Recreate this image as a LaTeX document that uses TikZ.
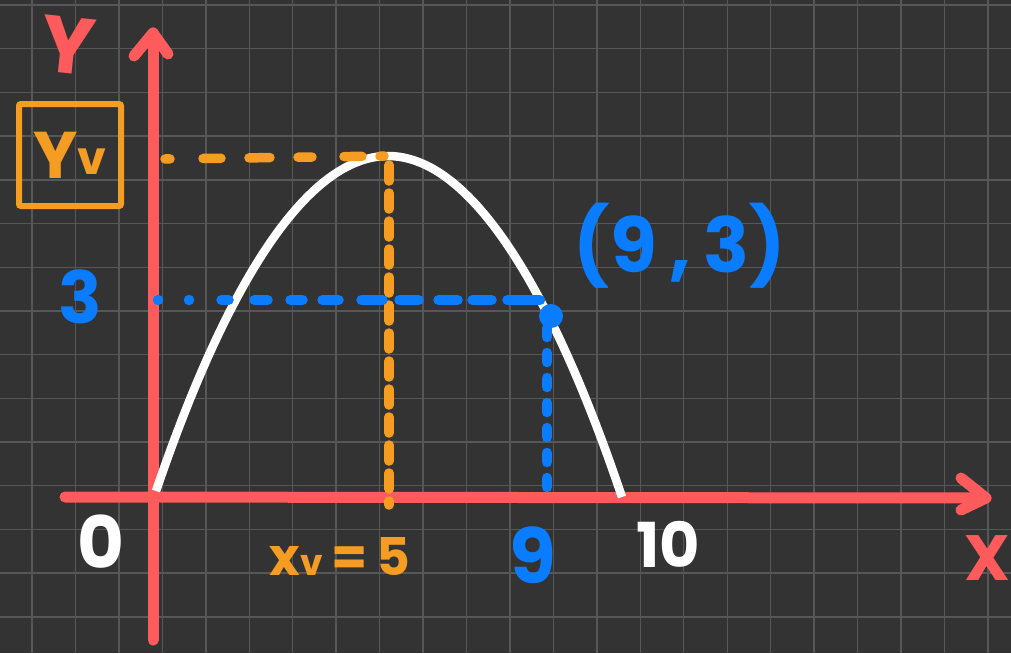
\documentclass[tikz,border=0pt]{standalone}
\usepackage{fontspec}
\setmainfont{Poppins}
\definecolor{bgc}{HTML}{333333}
\definecolor{gridc}{HTML}{575757}
\definecolor{axred}{HTML}{FF5B5D}
\definecolor{dorange}{HTML}{F59C22}
\definecolor{dblue}{HTML}{0A7CFF}
\begin{document}
\begin{tikzpicture}[x=1pt,y=-1pt,
  gridline/.style={draw=gridc, line width=1.4pt},
  axis/.style={draw=axred, line width=11pt, line cap=round, line join=round},
  curve/.style={draw=white, line width=8.5pt},
  odash/.style={draw=dorange, line width=9.5pt, line cap=round},
  bdash/.style={draw=dblue, line width=10.5pt, line cap=round},
  lab/.style={inner sep=0pt, font=\bfseries\fontsize{#1}{#1}\selectfont},
  lab/.default=60pt]
\fill[bgc] (0,0) rectangle (1011,653);
\useasboundingbox (0,0) rectangle (1011,653);
% grid
\foreach \i in {0,...,22} \draw[gridline] ({32+43.45*\i},0) -- ({32+43.45*\i},653);
\foreach \j in {0,...,14} \draw[gridline] (0,{5+43.7*\j}) -- (1011,{5+43.7*\j});
% key points
\coordinate (ybot) at (153,640);
\coordinate (ytop) at (153,33);
\coordinate (xleft) at (65,497);
\coordinate (xright) at (986,498);
\coordinate (cstart) at (156,491);
\coordinate (V) at (388,156);
\coordinate (cend) at (622,497);
\coordinate (oh) at (165,159);
\coordinate (ovt) at (389,165);
\coordinate (ovb) at (389,505);
\coordinate (bh) at (158,300);
\coordinate (bhe) at (540,300);
\coordinate (bvt) at (547,328);
\coordinate (bvb) at (547,495);
% axes
\draw[axis] (ybot) -- (ytop);
\draw[axis] ([shift={(-19,23)}]ytop) -- (ytop) -- ([shift={(15,21)}]ytop);
\draw[axis] (xleft) -- (xright);
\draw[axis] ([shift={(-25,-20)}]xright) -- (xright) -- ([shift={(-25,12)}]xright);
% parabola
\draw[curve] (cstart) parabola bend (V) (cend);
% orange dashed guides
\draw[odash, dash pattern=on 5pt off 33pt on 18pt off 28pt on 21pt off 28pt on 14pt off 32pt on 18pt off 18pt on 4pt off 40pt] (oh) -- (V);
\draw[odash, dash pattern=on 16pt off 12pt] (ovt) -- (ovb);
% blue dashed guides
\draw[bdash, dash pattern=on 0pt off 31pt on 0pt off 32.5pt on 7pt off 26pt on 13pt off 23pt on 12pt off 20pt on 16pt off 23pt on 21pt off 17pt on 19pt off 20pt on 19pt off 15pt on 19pt off 16pt on 30pt] (bh) -- (bhe);
\node[circle, fill=dblue, inner sep=0pt, minimum size=24pt] (P) at (551,316) {};
\draw[bdash, dash pattern=on 9pt off 16pt] (bvt) -- (bvb);
% labels
\node[lab=80pt, text=axred, rotate=-6] (ylab) at (68,45) {Y};
\node[draw=dorange, line width=6pt, rounded corners=2pt, minimum width=102pt, minimum height=102pt, text=dorange, lab=66pt] (yv) at (70,155) {\raisebox{-4pt}{Y}{\fontsize{46pt}{46pt}\selectfont v}};
\node[lab=72pt, text=dblue] (three) at (80,297) {3};
\node[lab=72pt, text=white] (zero) at (101,542) {0};
\node[lab=52pt, text=dorange] (xv) at (340,556) {x{\fontsize{36pt}{36pt}\selectfont v}\,=\,5};
\node[lab=76pt, text=dblue] (nine) at (533,555) {9};
\node[lab=62pt, text=white] (ten) at (668,544) {10};
\node[lab=64pt, text=axred] (xlab) at (987,558) {X};
\node[lab=76pt, text=dblue] (pt) at (680,246) {(9\,,\,3)};
\end{tikzpicture}
\end{document}
